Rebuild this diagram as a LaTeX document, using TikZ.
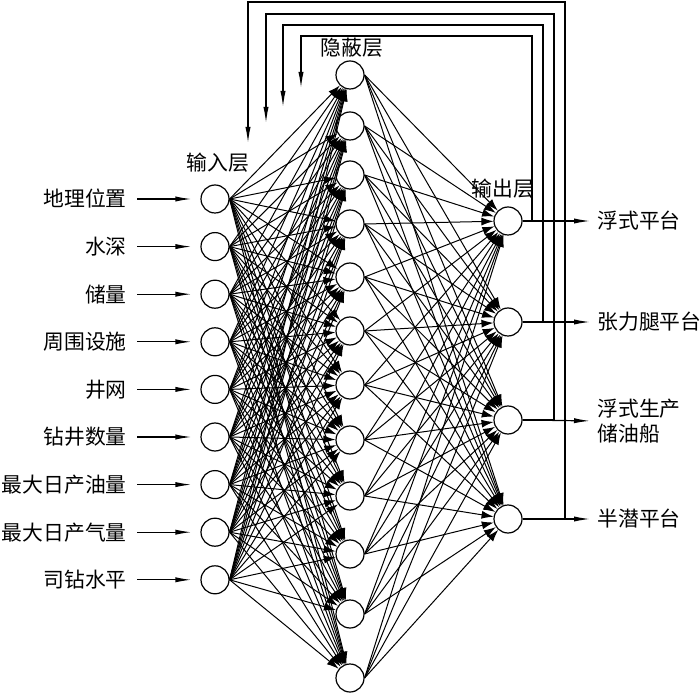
\documentclass[tikz,border=0pt]{standalone}
\usepackage{fontspec}
\setmainfont{Noto Sans CJK SC}
\usetikzlibrary{arrows.meta}
\tikzset{
  neuron/.style={circle,draw,line width=0.6pt,minimum size=14pt,inner sep=0pt,fill=white},
  link/.style={line width=0.5pt,-{Latex[length=6pt,width=4pt]}},
  inarrow/.style={line width=0.6pt,-{Latex[length=8pt,width=2.6pt]}},
  fb/.style={line width=0.6pt,-{Latex[length=8pt,width=2.6pt]}},
  lab/.style={font=\fontsize{10.4}{12.5}\selectfont,inner sep=0pt}
}
\begin{document}
\begin{tikzpicture}[x=0.5pt,y=-0.5pt]
    \useasboundingbox (0,0) rectangle (700,694);
    \foreach \t [count=\k] in {地理位置,水深,储量,周围设施,井网,钻井数量,最大日产油量,最大日产气量,司钻水平} {
        \node[neuron] (i\k) at (215,{199+47.6*(\k-1)}) {};
        \node[lab,anchor=east] (l\k) at (127,{199+47.6*(\k-1)}) {\t};
        \draw[inarrow,shorten <=5pt,shorten >=4.5pt] (l\k.east) -- (i\k.west);
    }
    \foreach \y [count=\k] in {75,126,175,224,277,331,385,440,496,554,614,678}
        \node[neuron] (h\k) at (350,\y) {};
    \foreach \y [count=\k] in {221,322,420,519}
        \node[neuron] (o\k) at (508,\y) {};
    \foreach \a in {1,...,9}
        \foreach \b in {1,...,12}
            \draw[link] (i\a.east) -- (h\b);
    \foreach \a in {1,...,12}
        \foreach \b in {1,...,4}
            \draw[link] (h\a.east) -- (o\b);
    \node[lab] (tin) at (218,163) {输入层};
    \node[lab] (thid) at (352,48) {隐蔽层};
    \node[lab] (tout) at (503,189) {输出层};
    \node[lab,anchor=west] (p1) at (597,221) {浮式平台};
    \node[lab,anchor=west] (p2) at (597,322) {张力腿平台};
    \node[lab,anchor=west,align=left] (p3) at (597,421) {浮式生产\\储油船};
    \node[lab,anchor=west] (p4) at (597,519) {半潜平台};
    \foreach \k in {1,...,4}
        \draw[inarrow,shorten >=3.5pt] (o\k.east) -- (p\k.west);
    \foreach \k/\xr/\yt/\xl/\yl in {1/532/36/301/88,2/543/25/283/107,3/554/14/266/123,4/565/2/248/143} {
        \coordinate (r\k) at (\xr,\yt);
        \coordinate (t\k) at (\xl,\yl);
        \draw[fb] (o\k.east) -| (r\k) -| (t\k);
    }
\end{tikzpicture}
\end{document}
